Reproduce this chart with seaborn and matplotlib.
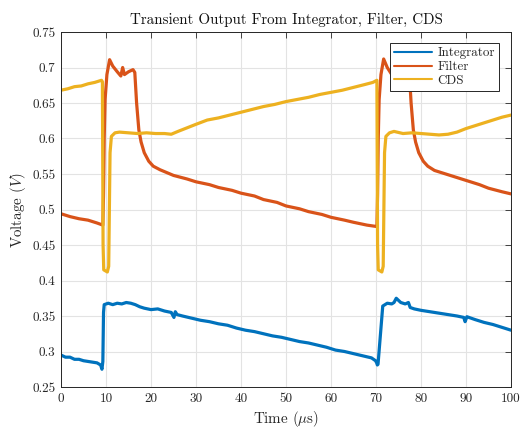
import matplotlib
matplotlib.use("Agg")
import matplotlib.pyplot as plt
from matplotlib.ticker import FuncFormatter, MultipleLocator
import pandas as pd
import seaborn as sns

# ---- data (time in microseconds, voltage in volts) ----
t_integrator = [0, 1, 2, 3, 4, 5, 6, 7, 8, 8.8, 9.1, 9.3, 9.45, 9.6, 10.5, 11.5, 12.5, 13.5,
                14.5, 15.5, 16.5, 17.5, 18.5, 20, 21.5, 23, 24.5, 25.1, 25.4, 25.8, 27, 29,
                31, 33, 35, 37, 39, 41, 43, 45, 47, 49, 51, 53, 55, 57, 59, 61, 63, 65, 67,
                69, 69.9, 70.15, 70.3, 70.45, 71.5, 72.5, 73.5, 74.0, 74.5, 75.5, 76.5, 77.2,
                77.6, 78.5, 80, 82, 84, 86, 88, 89.5, 89.8, 90.2, 92, 94, 96, 98, 100]
v_integrator = [0.295, 0.292, 0.292, 0.289, 0.289, 0.287, 0.286, 0.285, 0.284, 0.281, 0.275,
                0.286, 0.355, 0.366, 0.368, 0.366, 0.368, 0.367, 0.369, 0.368, 0.366, 0.363,
                0.361, 0.359, 0.360, 0.357, 0.355, 0.348, 0.356, 0.352, 0.350, 0.347, 0.344,
                0.342, 0.339, 0.337, 0.333, 0.330, 0.328, 0.325, 0.322, 0.320, 0.317, 0.314,
                0.312, 0.309, 0.306, 0.302, 0.300, 0.297, 0.294, 0.291, 0.287, 0.284, 0.281,
                0.282, 0.364, 0.368, 0.367, 0.369, 0.375, 0.369, 0.367, 0.369, 0.362, 0.360,
                0.358, 0.356, 0.354, 0.352, 0.350, 0.348, 0.342, 0.349, 0.345, 0.341, 0.338,
                0.334, 0.330]

t_filter = [0, 2, 4, 6, 8, 9.3, 9.45, 9.6, 9.8, 10.2, 10.8, 11.5, 12.5, 13.3, 13.7, 14.1,
            15, 16, 16.4, 16.8, 17.3, 17.8, 18.5, 19.5, 20.5, 22, 25, 28, 30, 33, 35, 38,
            40, 43, 45, 48, 50, 53, 55, 58, 60, 63, 65, 68, 70.2, 70.35, 70.5, 70.7, 71.1,
            71.7, 72.5, 73.5, 74.3, 74.7, 75.1, 76, 77, 77.4, 77.8, 78.3, 78.8, 79.5,
            80.5, 81.5, 83, 86, 88, 90, 93, 95, 98, 100]
v_filter = [0.494, 0.490, 0.487, 0.485, 0.481, 0.478, 0.52, 0.60, 0.655, 0.690, 0.711,
            0.702, 0.694, 0.688, 0.700, 0.690, 0.694, 0.697, 0.693, 0.650, 0.612, 0.595,
            0.580, 0.568, 0.561, 0.556, 0.548, 0.543, 0.539, 0.535, 0.531, 0.527, 0.523,
            0.519, 0.514, 0.510, 0.505, 0.501, 0.497, 0.493, 0.489, 0.485, 0.482, 0.478,
            0.476, 0.52, 0.60, 0.655, 0.690, 0.712, 0.700, 0.690, 0.688, 0.700, 0.690,
            0.694, 0.697, 0.693, 0.650, 0.612, 0.595, 0.580, 0.568, 0.561, 0.555, 0.549,
            0.545, 0.541, 0.535, 0.530, 0.525, 0.522]

t_cds = [0, 1.5, 3, 4.5, 6, 7.5, 9, 9.2, 9.35, 9.5, 10.3, 10.6, 10.9, 11.2, 12, 13, 15,
         17, 19, 21, 23, 24.5, 26, 28, 30, 32.5, 35, 37.5, 40, 42.5, 45, 47.5, 50, 52.5,
         55, 57.5, 60, 62.5, 65, 67.5, 69.3, 70.2, 70.35, 70.5, 71.3, 71.6, 71.9, 72.2,
         73, 74, 76, 78, 80, 82, 84, 86, 88, 90, 92, 94, 96, 98, 100]
v_cds = [0.668, 0.670, 0.673, 0.674, 0.677, 0.679, 0.682, 0.680, 0.45, 0.415, 0.412, 0.42,
         0.58, 0.603, 0.608, 0.609, 0.608, 0.607, 0.608, 0.607, 0.607, 0.606, 0.610,
         0.615, 0.620, 0.626, 0.629, 0.633, 0.637, 0.641, 0.645, 0.648, 0.652, 0.655,
         0.658, 0.662, 0.665, 0.668, 0.672, 0.676, 0.679, 0.682, 0.45, 0.415, 0.412, 0.42,
         0.58, 0.603, 0.608, 0.610, 0.607, 0.608, 0.607, 0.606, 0.605, 0.606, 0.609,
         0.614, 0.618, 0.622, 0.626, 0.630, 0.633]

series = ["Integrator", "Filter", "CDS"]
colors = ["#0072BD", "#D95319", "#EDB120"]

# ---- style ----
sns.set_theme(style="white")
plt.rcParams["font.family"] = ["cmr10", "DejaVu Serif"]
plt.rcParams["mathtext.fontset"] = "cm"
plt.rcParams["axes.unicode_minus"] = False
plt.rcParams["axes.formatter.use_mathtext"] = True

fig = plt.figure(figsize=(5.2, 4.28), dpi=100)
ax = fig.add_axes([61 / 520, 1 - 387 / 428, 450 / 520, 355 / 428])

frames = [
    pd.DataFrame({"t": t_integrator, "v": v_integrator}),
    pd.DataFrame({"t": t_filter, "v": v_filter}),
    pd.DataFrame({"t": t_cds, "v": v_cds}),
]
for df, name, col in zip(frames, series, colors):
    sns.lineplot(data=df, x="t", y="v", ax=ax, color=col, linewidth=2.3,
                 sort=False, estimator=None, label=name)

ax.set_xlim(0, 100)
ax.set_ylim(0.25, 0.75)
ax.xaxis.set_major_locator(MultipleLocator(10))
ax.yaxis.set_major_locator(MultipleLocator(0.05))
ax.yaxis.set_major_formatter(FuncFormatter(lambda v, p: f"{v:g}"))
ax.xaxis.set_major_formatter(FuncFormatter(lambda v, p: f"{v:g}"))

ax.grid(True, color="#e3e3e3", linewidth=0.8)
ax.set_axisbelow(True)
for s in ax.spines.values():
    s.set_color("#262626")
    s.set_linewidth(0.7)
ax.tick_params(direction="in", length=4, width=0.6, color="#262626",
               top=True, right=True, labelsize=9.5, labelcolor="#262626", pad=4)

ax.set_title("Transient Output From Integrator, Filter, CDS", fontsize=10.8, color="#111111", pad=6)
ax.set_xlabel(r"Time ($\mu$s)", fontsize=10.8, color="#262626", labelpad=3)
ax.set_ylabel(r"Voltage ($V$)", fontsize=10.8, color="#262626", labelpad=3)

leg = ax.legend(loc="upper right", bbox_to_anchor=(0.973, 0.968), borderaxespad=0,
                fancybox=False, framealpha=1, edgecolor="#262626", fontsize=9.3,
                handlelength=3.0, borderpad=0.3, labelspacing=0.12, handletextpad=0.4)
leg.get_frame().set_linewidth(0.7)
for line in leg.get_lines():
    line.set_linewidth(1.5)

fig.savefig("out.png", dpi=100)
